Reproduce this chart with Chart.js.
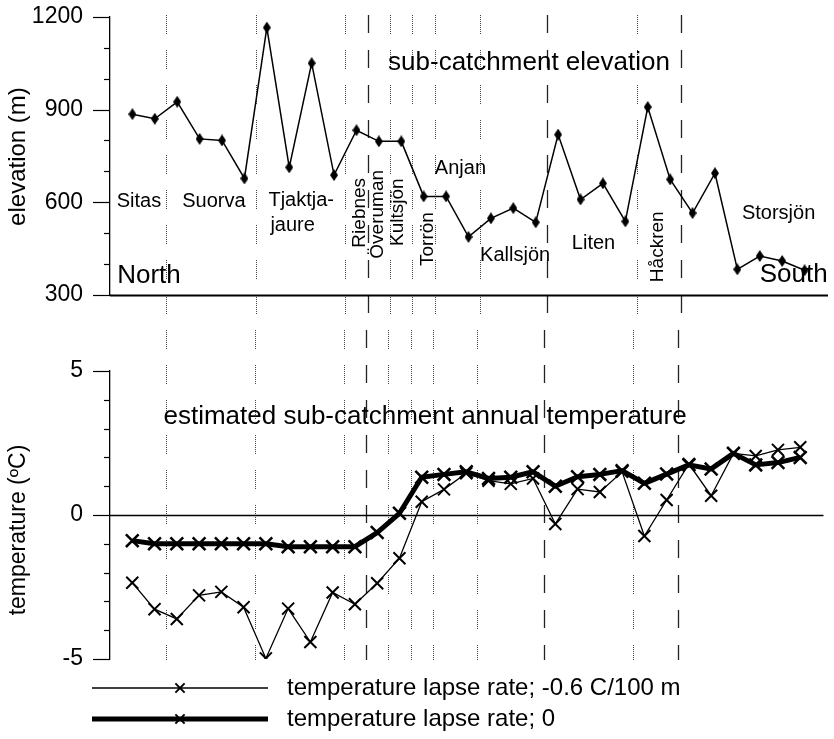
<!DOCTYPE html>
<html lang="en">
<head>
  <meta charset="UTF-8" />
  <title>Sub-catchment elevation and temperature</title>
  <script src="https://cdn.jsdelivr.net/npm/chart.js"></script>
  <style>
    *{margin:0;padding:0;box-sizing:border-box}
    body{background:#fff;width:834px;height:739px;overflow:hidden;position:relative}
    .panel{position:absolute;left:0;width:834px}
    #top{top:0;height:330px}
    #bottom{top:330px;height:409px}
  </style>
</head>
<body>
  <div class="panel" id="top"><canvas id="elevChart"></canvas></div>
  <div class="panel" id="bottom"><canvas id="tempChart"></canvas></div>

  <script>
    // sub-catchments from north (0) to south (30)
    const subIdx = [0,1,2,3,4,5,6,7,8,9,10,11,12,13,14,15,16,17,18,19,20,21,22,23,24,25,26,27,28,29,30];
    const elevation = [885,870,925,805,800,677,1165,713,1050,688,833,797,797,619,619,488,548,581,535,819,609,661,538,908,674,565,694,383,426,410,380];
    const tempLapse = [-2.35,-3.27,-3.61,-2.79,-2.67,-3.2,-4.98,-3.25,-4.41,-2.69,-3.1,-2.37,-1.5,0.46,0.89,1.45,1.19,1.08,1.27,-0.31,0.9,0.8,1.5,-0.73,0.52,1.77,0.67,2.14,2.05,2.26,2.35];
    const tempNoLapse = [-0.89,-1.0,-1.0,-1.0,-1.0,-1.0,-1.0,-1.1,-1.1,-1.1,-1.1,-0.61,0.06,1.31,1.41,1.5,1.27,1.31,1.5,1.0,1.33,1.41,1.54,1.1,1.42,1.74,1.6,2.14,1.74,1.82,2.0];
    const seriesLabels = ['temperature lapse rate; -0.6 C/100 m', 'temperature lapse rate; 0'];

    // borders between the named catchments
    const boundaryAt = [1.5, 5.5, 9.5, 10.5, 11.5, 12.5, 13.5, 15.5, 18.5, 22.5, 24.5];
    const boundaryKind = ['dot','dot','dot','dash','dot','dot','dot','dot','dash','dot','dash'];

    const FONT = "'Liberation Sans', Arial, Helvetica, sans-serif";
    Chart.defaults.font.family = FONT;
    Chart.defaults.color = '#000';

    // text placed in data units: [text, x, y, size, rotated, align]
    const topNotes = [
      ['sub-catchment elevation', 17.70, 1052, 26, false, 'center'],
      ['North', 0.74, 361, 26, false, 'center'],
      ['South', 29.51, 364, 26, false, 'center'],
      ['Sitas', 0.29, 603, 20, false, 'center'],
      ['Suorva', 3.64, 603, 20, false, 'center'],
      ['Tjaktja-', 6.07, 606, 20, false, 'left'],
      ['jaure', 6.16, 526, 20, false, 'left'],
      ['Riebnes', 10.16, 566, 19, true, 'center'],
      ['Överuman', 10.94, 561, 19, true, 'center'],
      ['Kultsjön', 11.85, 568, 19, true, 'center'],
      ['Torrön', 13.17, 481, 19, true, 'center'],
      ['Anjan', 14.64, 710, 20, false, 'center'],
      ['Kallsjön', 17.08, 429, 20, false, 'center'],
      ['Liten', 20.58, 468, 20, false, 'center'],
      ['Håckren', 23.46, 456, 19, true, 'center'],
      ['Storsjön', 28.84, 565, 20, false, 'center'],
      ['elevation (m)', -5.09, 748, 24, true, 'center']
    ];
    const bottomNotes = [
      ['estimated sub-catchment annual temperature', 13.15, 3.4, 26, false, 'center'],
      ['temperature (ºC)', -5.09, -0.52, 23, true, 'center']
    ];

    const DOTS = [1,1,1,1,1,1,1,1,1,1,1,1,1,1,1,1,1,1,1,16];

    const boundaries = {
      id: 'boundaries',
      beforeDatasetsDraw(chart, args, opts) {
        const ctx = chart.ctx, x = chart.scales.x;
        ctx.save();
        boundaryAt.forEach((b, k) => {
          const px = Math.round(x.getPixelForValue(b)) + 0.5;
          if (boundaryKind[k] === 'dash') {
            ctx.setLineDash([18, 17]); ctx.strokeStyle = '#222'; ctx.lineWidth = 1.3;
          } else {
            ctx.setLineDash(DOTS); ctx.strokeStyle = '#444'; ctx.lineWidth = 1;
          }
          ctx.beginPath(); ctx.moveTo(px, opts.y0); ctx.lineTo(px, opts.y1); ctx.stroke();
        });
        ctx.restore();
      }
    };

    const axisTicks = {
      id: 'axisTicks',
      afterDraw(chart, args, opts) {
        const ctx = chart.ctx, y = chart.scales.y, area = chart.chartArea;
        ctx.save();
        ctx.strokeStyle = '#000'; ctx.lineWidth = 1.2;
        for (let v = y.min; v <= y.max; v += opts.minor) {
          const py = Math.round(y.getPixelForValue(v)) + 0.5;
          const len = Math.abs(v % opts.major) < 1e-9 ? 17 : 6;
          ctx.beginPath(); ctx.moveTo(area.left - len, py); ctx.lineTo(area.left, py); ctx.stroke();
        }
        const by = Math.round(y.getPixelForValue(opts.base)) + 0.5;
        ctx.lineWidth = opts.baseWidth;
        ctx.beginPath(); ctx.moveTo(area.left, by); ctx.lineTo(area.right + 1, by); ctx.stroke();
        ctx.restore();
      }
    };

    const notes = {
      id: 'notes',
      afterDatasetsDraw(chart, args, opts) {
        const ctx = chart.ctx, x = chart.scales.x, y = chart.scales.y;
        ctx.save();
        ctx.fillStyle = '#000';
        ctx.textBaseline = 'middle';
        opts.list.forEach(([text, vx, vy, size, rot, align]) => {
          ctx.save();
          ctx.font = size + 'px ' + FONT;
          ctx.textAlign = align;
          ctx.translate(x.getPixelForValue(vx), y.getPixelForValue(vy));
          if (rot) ctx.rotate(-Math.PI / 2);
          ctx.fillText(text, 0, 0);
          ctx.restore();
        });
        ctx.restore();
      }
    };

    const legendRows = {
      id: 'legendRows',
      afterDraw(chart, args, opts) {
        const ctx = chart.ctx;
        ctx.save();
        chart.data.datasets.forEach((ds, k) => {
          const ly = opts.rows[k];
          ctx.strokeStyle = '#000';
          ctx.lineWidth = ds.borderWidth;
          ctx.beginPath(); ctx.moveTo(opts.x0, ly); ctx.lineTo(opts.x1, ly); ctx.stroke();
          ctx.lineWidth = 2;
          Chart.helpers.drawPoint(ctx, {pointStyle: 'crossRot', radius: 6.5, borderWidth: 2}, opts.xm, ly);
          ctx.fillStyle = '#000';
          ctx.font = '24px ' + FONT;
          ctx.textBaseline = 'middle';
          ctx.textAlign = 'left';
          ctx.fillText(ds.label, opts.xt, ly);
        });
        ctx.restore();
      }
    };

    // small upright diamond marker for the elevation points
    const diamond = document.createElement('canvas');
    diamond.width = 8; diamond.height = 12;
    const dc = diamond.getContext('2d');
    dc.fillStyle = '#000';
    dc.beginPath(); dc.moveTo(4, 0); dc.lineTo(8, 6); dc.lineTo(4, 12); dc.lineTo(0, 6); dc.closePath(); dc.fill();

    const yWidth = s => { s.width = 110; };
    // ticks are drawn by axisTicks; the hidden tick marks only push the labels left
    const hiddenGrid = {display: true, drawOnChartArea: false, drawTicks: true, tickLength: 24, tickColor: 'rgba(0,0,0,0)'};

    new Chart(document.getElementById('elevChart'), {
      type: 'line',
      data: {
        datasets: [{
          data: subIdx.map((s, k) => ({x: s, y: elevation[k]})),
          borderColor: '#000',
          borderWidth: 1.5,
          pointStyle: diamond,
          pointBackgroundColor: '#000',
          tension: 0
        }]
      },
      options: {
        responsive: true,
        maintainAspectRatio: false,
        animation: false,
        layout: {padding: {top: 16, bottom: 35, left: 0, right: 7}},
        plugins: {
          legend: {display: false},
          tooltip: {enabled: false},
          boundaries: {y0: 15, y1: 330},
          axisTicks: {minor: 100, major: 300, base: 300, baseWidth: 2},
          notes: {list: topNotes}
        },
        scales: {
          x: {type: 'linear', min: -1, max: 31, display: false},
          y: {
            min: 300, max: 1200,
            afterFit: yWidth,
            grid: hiddenGrid,
            border: {display: true, color: '#000', width: 1.3},
            ticks: {stepSize: 300, padding: 3, font: {size: 23}, color: '#000', callback: v => String(v)}
          }
        }
      },
      plugins: [boundaries, axisTicks, notes]
    });

    new Chart(document.getElementById('tempChart'), {
      type: 'line',
      data: {
        datasets: [{
          label: seriesLabels[0],
          data: subIdx.map((s, k) => ({x: s, y: tempLapse[k]})),
          borderColor: '#000',
          borderWidth: 1.3,
          pointStyle: 'crossRot',
          pointRadius: 8.5,
          pointBorderWidth: 2,
          pointBorderColor: '#000',
          tension: 0
        }, {
          label: seriesLabels[1],
          data: subIdx.map((s, k) => ({x: s, y: tempNoLapse[k]})),
          borderColor: '#000',
          borderWidth: 5,
          borderJoinStyle: 'round',
          pointStyle: 'crossRot',
          pointRadius: 9,
          pointBorderWidth: 2.5,
          pointBorderColor: '#000',
          tension: 0
        }]
      },
      options: {
        responsive: true,
        maintainAspectRatio: false,
        animation: false,
        layout: {padding: {top: 41, bottom: 80, left: 0, right: 7}},
        plugins: {
          legend: {display: false},
          tooltip: {enabled: false},
          boundaries: {y0: 0, y1: 330},
          axisTicks: {minor: 1, major: 5, base: 0, baseWidth: 1.5},
          notes: {list: bottomNotes},
          legendRows: {rows: [358, 389], x0: 92, x1: 268, xm: 180, xt: 287}
        },
        scales: {
          x: {type: 'linear', min: -1, max: 31, display: false},
          y: {
            min: -5, max: 5,
            afterFit: yWidth,
            grid: hiddenGrid,
            border: {display: true, color: '#000', width: 1.3},
            ticks: {stepSize: 5, padding: 3, font: {size: 23}, color: '#000', callback: v => String(v)}
          }
        }
      },
      plugins: [boundaries, axisTicks, notes, legendRows]
    });
  </script>
</body>
</html>
